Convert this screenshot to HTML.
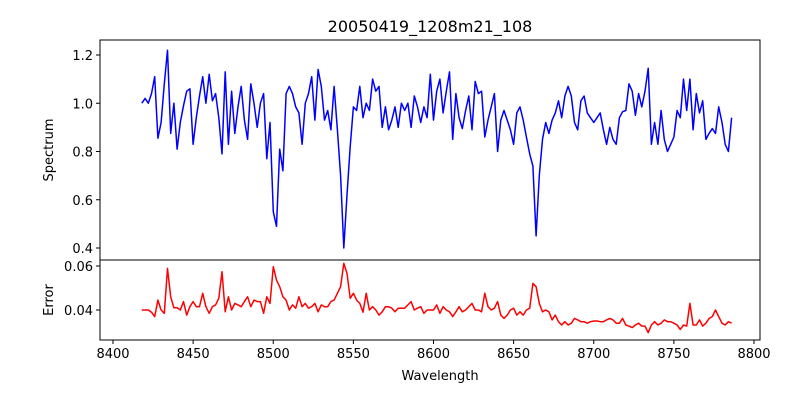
<!DOCTYPE html>
<html><head><meta charset="utf-8"><style>body{margin:0;background:#fff}svg{display:block;font-family:"DejaVu Sans","Liberation Sans",sans-serif}</style></head>
<body>
<svg id="chart" width="800" height="400">
<text x="430" y="32" text-anchor="middle" font-size="16">20050419_1208m21_108</text>
<g id="plot"></g>
</svg>
<script>
const wlStart = 8418, wlStep = 2;
const spectrum = [1.0,1.02,1.0,1.04,1.11,0.855,0.92,1.08,1.22,0.875,
1.0,0.81,0.92,0.99,1.05,1.06,0.83,0.94,1.03,1.11,
1.0,1.12,1.01,1.04,0.94,0.79,1.13,0.83,1.05,0.875,
0.985,1.07,0.93,0.85,1.08,1.0,0.9,1.0,1.04,0.77,
0.92,0.55,0.49,0.81,0.72,1.04,1.07,1.04,0.985,0.96,
0.83,1.0,1.04,1.11,0.93,1.14,1.07,0.93,0.97,0.89,
1.07,0.89,0.7,0.40,0.62,0.82,0.985,0.97,1.07,0.94,
1.0,0.97,1.10,1.05,1.07,0.90,0.985,0.89,0.93,0.985,
0.90,1.0,0.97,1.0,0.90,1.03,0.985,0.92,0.985,0.94,
1.12,0.93,1.05,1.10,0.96,1.05,1.13,0.85,1.04,0.94,
0.895,0.97,1.03,0.89,1.09,1.04,1.05,0.86,0.93,0.985,
1.04,0.80,0.93,0.97,0.93,0.89,0.83,0.96,0.985,0.93,
0.86,0.79,0.74,0.45,0.7,0.85,0.92,0.875,0.93,0.96,
1.01,0.94,1.03,1.07,1.03,0.92,0.89,1.01,1.03,0.96,
0.94,0.92,0.94,0.96,0.89,0.83,0.90,0.85,0.83,0.94,
0.965,0.97,1.08,1.05,0.95,1.04,0.985,1.05,1.145,0.83,
0.92,0.83,0.97,0.85,0.80,0.83,0.86,0.97,0.94,1.10,
0.97,1.10,0.89,1.04,0.96,1.01,0.85,0.875,0.895,0.875,
0.985,0.92,0.83,0.80,0.94];
const errors = [0.040,0.040,0.040,0.039,0.037,0.0445,0.040,0.0385,0.0589,0.046,
0.041,0.041,0.040,0.0438,0.0377,0.0415,0.0438,0.0415,0.0415,0.0476,
0.0415,0.0385,0.0415,0.0423,0.0453,0.0574,0.0392,0.046,0.040,0.043,
0.0423,0.0415,0.0438,0.046,0.0415,0.0445,0.0438,0.0438,0.0385,0.046,
0.043,0.0597,0.0536,0.0506,0.046,0.0445,0.040,0.0423,0.0408,0.046,
0.0415,0.043,0.0408,0.0415,0.043,0.0392,0.0423,0.0415,0.0415,0.0438,
0.0445,0.0476,0.0506,0.0612,0.0567,0.0453,0.0476,0.0445,0.043,0.039,
0.0476,0.040,0.0415,0.040,0.0377,0.0392,0.0415,0.0415,0.0408,0.0392,
0.0408,0.0408,0.0408,0.0423,0.0438,0.040,0.0408,0.0415,0.0385,0.040,
0.040,0.040,0.0423,0.0385,0.0415,0.040,0.0392,0.037,0.0392,0.0415,
0.0392,0.040,0.0415,0.043,0.040,0.040,0.0392,0.0476,0.0415,0.040,
0.0408,0.0438,0.0377,0.0362,0.0377,0.040,0.0408,0.0377,0.0392,0.0377,
0.040,0.0408,0.0521,0.0506,0.043,0.0392,0.040,0.0392,0.0355,0.0377,
0.0347,0.0332,0.0347,0.0332,0.034,0.0362,0.0355,0.0347,0.0347,0.034,
0.0347,0.035,0.035,0.0347,0.0347,0.0355,0.0362,0.0355,0.034,0.034,
0.0362,0.0332,0.0327,0.032,0.0332,0.034,0.0327,0.0327,0.0297,0.0332,
0.0347,0.0332,0.034,0.0355,0.0347,0.0347,0.034,0.0332,0.0312,0.0332,
0.0327,0.043,0.0332,0.0332,0.0355,0.0327,0.034,0.0362,0.037,0.040,
0.037,0.034,0.0332,0.0347,0.034];
const xTicks = [8400,8450,8500,8550,8600,8650,8700,8750,8800];
const specTicks = [0.4,0.6,0.8,1.0,1.2];
const errTicks = [0.04,0.06];

const NS="http://www.w3.org/2000/svg";
const g=document.getElementById('plot');
const X=v=>113+(v-8400)*1.6025;
const YS=v=>55+(1.2-v)*241.25;
const YE=v=>310-(v-0.04)*2200;
function mk(t,a){const e=document.createElementNS(NS,t);for(const k in a)e.setAttribute(k,a[k]);g.appendChild(e);return e;}
function line(pts,color,name){
  const p=mk('polyline',{points:pts.join(' '),fill:'none',stroke:color,'stroke-width':1.5,'stroke-linejoin':'round'});
  
  
}
line(spectrum.map((v,i)=>X(wlStart+i*wlStep).toFixed(1)+','+YS(v).toFixed(1)),'#0000ff','spectrum-line');
line(errors.map((v,i)=>X(wlStart+i*wlStep).toFixed(1)+','+YE(v).toFixed(1)),'#ff0000','error-line');
const f1=mk('rect',{x:100,y:40,width:660,height:220,fill:'none',stroke:'#000','stroke-width':1});


const f2=mk('rect',{x:100,y:260,width:660,height:80,fill:'none',stroke:'#000','stroke-width':1});


xTicks.forEach(v=>{
  mk('line',{x1:X(v),x2:X(v),y1:340,y2:344,stroke:'#000'});
  const t=mk('text',{x:X(v),y:358,'text-anchor':'middle','font-size':13});t.textContent=v;
  
  
});
specTicks.forEach(v=>{
  mk('line',{x1:96,x2:100,y1:YS(v),y2:YS(v),stroke:'#000'});
  const t=mk('text',{x:93,y:YS(v)+5,'text-anchor':'end','font-size':13});t.textContent=v.toFixed(1);
  
  
});
errTicks.forEach(v=>{
  mk('line',{x1:96,x2:100,y1:YE(v),y2:YE(v),stroke:'#000'});
  const t=mk('text',{x:93,y:YE(v)+5,'text-anchor':'end','font-size':13});t.textContent=v.toFixed(2);
  
  
});
const l1=mk('text',{x:53,y:150,'text-anchor':'middle','font-size':13,transform:'rotate(-90 53 150)'});l1.textContent='Spectrum';


const l2=mk('text',{x:53,y:300,'text-anchor':'middle','font-size':13,transform:'rotate(-90 53 300)'});l2.textContent='Error';


const l3=mk('text',{x:440,y:380,'text-anchor':'middle','font-size':13});l3.textContent='Wavelength';


</script>
</body></html>
